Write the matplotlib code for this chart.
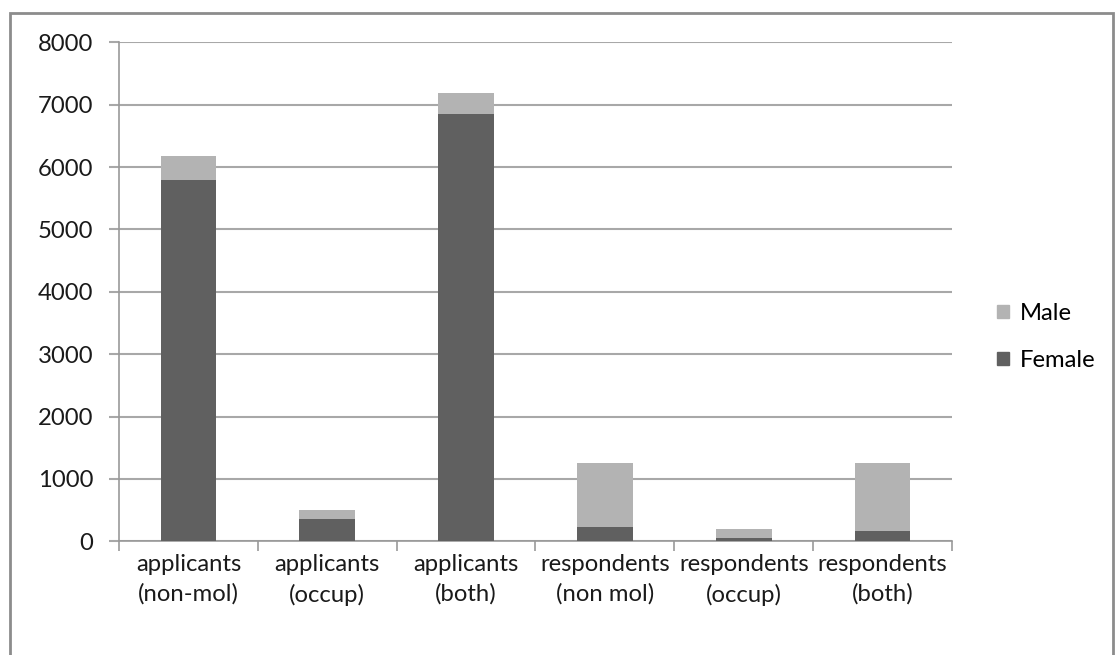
import matplotlib.pyplot as plt
import matplotlib.patches as mpatches
import numpy as np

categories = ['applicants\n(non-mol)', 'applicants\n(occup)', 'applicants\n(both)',
              'respondents\n(non mol)', 'respondents\n(occup)', 'respondents\n(both)']
female = [5800, 355, 6850, 230, 50, 170]
male = [370, 145, 330, 1030, 145, 1090]

female_color = '#606060'
male_color = '#b3b3b3'
grid_color = '#a8a8a8'
text_color = '#1a1a1a'
fsize = 17.2

plt.rcParams['font.family'] = ['Lato', 'DejaVu Sans']

fig = plt.figure(figsize=(11.16, 6.55), dpi=100)
fig.patch.set_facecolor('white')

# outer chart frame
frame = mpatches.Rectangle((10 / 1116, -0.05), 1103 / 1116, (655 - 13) / 655 + 0.05,
                           transform=fig.transFigure, fill=False,
                           edgecolor='#8c8c8c', linewidth=2)
fig.patches.append(frame)

ax = fig.add_axes([119 / 1116, (655 - 541.3) / 655, 833 / 1116, 499 / 655])

x = np.arange(len(categories))
ax.bar(x, female, width=0.4, color=female_color, zorder=3)
ax.bar(x, male, width=0.4, bottom=female, color=male_color, zorder=3)

ax.set_xlim(-0.5, len(categories) - 0.5)
ax.set_ylim(0, 8000)
ax.set_yticks(np.arange(0, 8001, 1000))
ax.yaxis.grid(True, color=grid_color, linewidth=1.5, zorder=0)

ax.set_xticks(x)
ax.set_xticklabels(categories, fontsize=fsize, color=text_color, linespacing=1.5)
ax.set_xticks(np.arange(-0.5, len(categories)), minor=True)
ax.tick_params(axis='x', which='major', length=0, pad=9)
ax.tick_params(axis='x', which='minor', length=7, color='#999999', width=1.2)
ax.tick_params(axis='y', length=7, color=grid_color, width=1.5, pad=11.5,
               labelsize=fsize, labelcolor=text_color)

for side in ['top', 'right']:
    ax.spines[side].set_visible(False)
ax.spines['left'].set_color('#999999')
ax.spines['left'].set_linewidth(1.2)
ax.spines['bottom'].set_color('#999999')
ax.spines['bottom'].set_linewidth(1.2)

handles = [mpatches.Patch(color=male_color, label='Male'),
           mpatches.Patch(color=female_color, label='Female')]
fig.legend(handles=handles, loc='center left', bbox_to_anchor=(980 / 1116, (655 - 337) / 655),
           frameon=False, fontsize=fsize, handlelength=0.5, handleheight=0.5,
           handletextpad=0.45, labelspacing=1.1, borderpad=0.2)

fig.savefig('out.png', dpi=100, facecolor='white')
